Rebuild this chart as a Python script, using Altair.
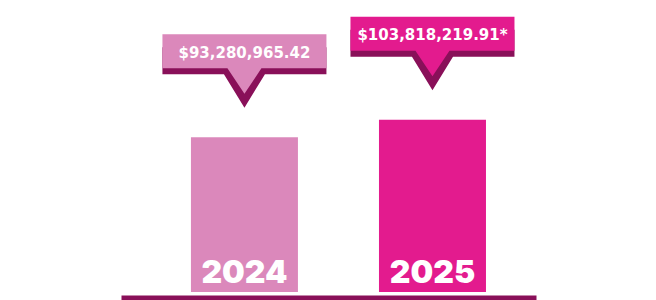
import altair as alt
import pandas as pd

years = ["2024", "2025"]
values = [93280965.42, 103818219.91]
labels = ["$93,280,965.42", "$103,818,219.91*"]
bar_colors = ["#DB88BB", "#E31B8E"]
dark = "#891059"

df = pd.DataFrame({"year": years, "value": values, "label": labels, "zero": [0, 0]})

# callout shapes (pixel units when size=4), anchored at bar top centre
pink_path = "M-82,-103L82,-103L82,-69L17,-69L0,-43.5L-17,-69L-82,-69Z"
dark_path = "M-82,-90L82,-90L82,-63L20.5,-63L0,-29.5L-20.5,-63L-82,-63Z"

X = alt.X(
    "year:N",
    sort=years,
    scale=alt.Scale(paddingInner=0.431, paddingOuter=0.319, align=0.583),
    axis=alt.Axis(labels=False, ticks=False, title=None, domainColor=dark,
                  domainWidth=8, offset=7, grid=False),
)
Y = alt.Y("value:Q", scale=alt.Scale(domain=[0, 176000000], nice=False), axis=None)
C = alt.Color("year:N", scale=alt.Scale(domain=years, range=bar_colors), legend=None)

base = alt.Chart(df)

bars = base.mark_bar(strokeWidth=0).encode(x=X, y=Y, color=C)

callout_dark = base.mark_point(shape=dark_path, size=4, filled=True, opacity=1,
                               fill=dark, strokeWidth=0).encode(x=X, y=Y)
callout_pink = base.mark_point(shape=pink_path, size=4, filled=True, opacity=1,
                               strokeWidth=0).encode(x=X, y=Y, fill=alt.Fill("year:N", scale=alt.Scale(domain=years, range=bar_colors), legend=None))

amount = base.mark_text(font="DejaVu Sans", fontWeight="bold", fontSize=15,
                        color="white", baseline="alphabetic", align="center",
                        dy=-79.5).encode(x=X, y=Y, text="label:N")

year_txt = base.mark_text(font="Inter", fontWeight=900, fontSize=32,
                          color="white", baseline="alphabetic", align="center",
                          dy=-9).encode(x=X, y=alt.Y("zero:Q", scale=alt.Scale(domain=[0, 176000000], nice=False), axis=None),
                                        text="year:N")

chart = alt.layer(bars, callout_dark, callout_pink, amount, year_txt).properties(
    width=415, height=292,
    autosize=alt.AutoSizeParams(type="none"),
    padding={"left": 121, "top": 0, "right": 120, "bottom": 8},
    background="white",
).configure_view(stroke=None)

chart.save("out.html", embed_options={"renderer": "svg", "actions": False})
